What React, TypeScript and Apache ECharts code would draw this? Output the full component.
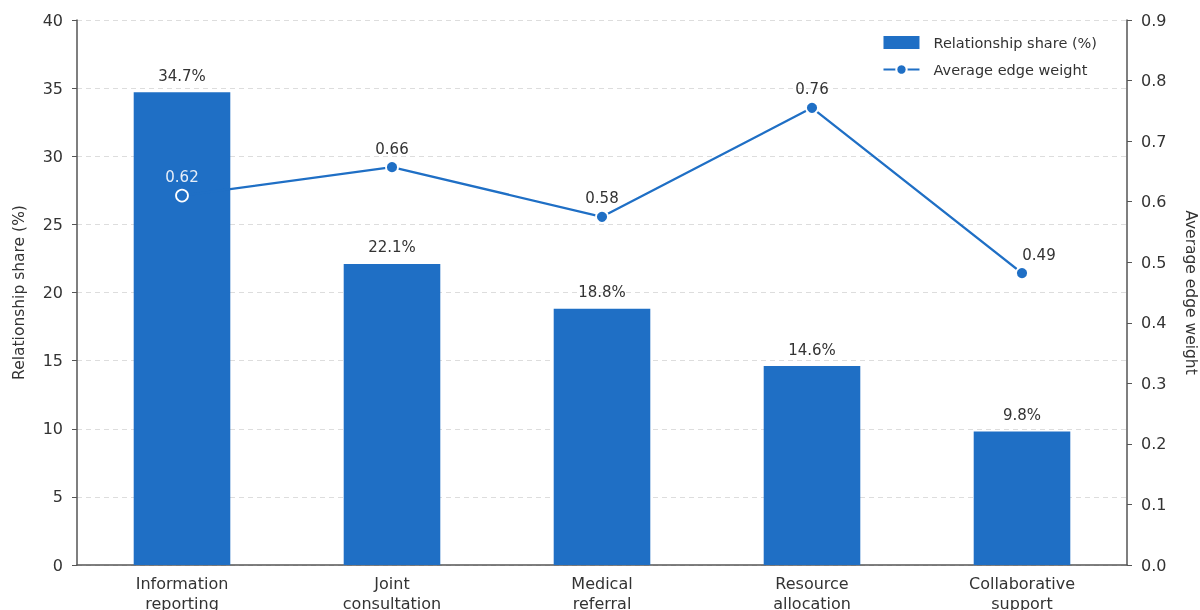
import React, { useEffect, useRef } from "react";
import * as echarts from "echarts";

const categories = [
  "Information\nreporting",
  "Joint\nconsultation",
  "Medical\nreferral",
  "Resource\nallocation",
  "Collaborative\nsupport",
];
const shareValues = [34.7, 22.1, 18.8, 14.6, 9.8];
const weightValues = [0.61, 0.657, 0.575, 0.755, 0.482];
const weightLabels = ["0.62", "0.66", "0.58", "0.76", "0.49"];
const leftTicks = { min: 0, max: 40, interval: 5 };
const rightTicks = { min: 0, max: 0.9, interval: 0.1 };

const BLUE = "#1f6fc5";
const FONT = "DejaVu Sans";
const TXT = "#333333";
const AXIS = "#555555";
const BAR_FRACTION = 0.46;

export default function App() {
  const ref = useRef<HTMLDivElement>(null);
  useEffect(() => {
    if (!ref.current) return;
    const chart = echarts.init(ref.current, undefined, { renderer: "svg" });
    chart.setOption({
      animation: false,
      textStyle: { fontFamily: FONT },
      grid: {
        left: 77,
        right: 73,
        top: 20,
        bottom: 45,
        containLabel: false,
        outerBoundsMode: "none",
      },
      legend: {
        orient: "vertical",
        right: 98,
        top: 30,
        itemWidth: 36,
        itemHeight: 13,
        itemGap: 12,
        textStyle: {
          fontFamily: FONT,
          fontSize: 14.5,
          color: TXT,
          padding: [0, 0, 0, 9],
        },
        data: [
          { name: "Relationship share (%)", icon: "rect" },
          { name: "Average edge weight" },
        ],
      },
      visualMap: {
        show: false,
        type: "piecewise",
        seriesIndex: 1,
        dimension: 0,
        pieces: [
          { min: -1, max: BAR_FRACTION / 2, color: "#ffffff" },
          { gt: BAR_FRACTION / 2, max: 100, color: BLUE },
        ],
      },
      xAxis: {
        type: "category",
        data: categories,
        boundaryGap: true,
        axisLine: { show: true, lineStyle: { color: AXIS, width: 1.5 } },
        axisTick: { show: false },
        axisLabel: {
          fontFamily: FONT,
          fontSize: 16,
          color: TXT,
          margin: 8,
          lineHeight: 20,
          interval: 0,
        },
      },
      yAxis: [
        {
          type: "value",
          min: leftTicks.min,
          max: leftTicks.max,
          interval: leftTicks.interval,
          name: "Relationship share (%)",
          nameLocation: "middle",
          nameRotate: 90,
          nameGap: 50,
          nameTextStyle: { fontFamily: FONT, fontSize: 15.5, color: TXT },
          axisLine: { show: true, lineStyle: { color: AXIS, width: 1.5 } },
          axisTick: { show: true, length: 5, lineStyle: { color: AXIS } },
          axisLabel: { fontFamily: FONT, fontSize: 16, color: TXT, margin: 14 },
          splitLine: {
            show: true,
            lineStyle: { color: "#dddddd", type: [5, 4], width: 1 },
          },
        },
        {
          type: "value",
          min: rightTicks.min,
          max: rightTicks.max,
          interval: rightTicks.interval,
          name: "Average edge weight",
          nameLocation: "middle",
          nameRotate: -90,
          nameGap: 56,
          nameTextStyle: { fontFamily: FONT, fontSize: 15.5, color: TXT },
          axisLine: { show: true, lineStyle: { color: AXIS, width: 1.5 } },
          axisTick: { show: true, length: 5, lineStyle: { color: AXIS } },
          axisLabel: {
            fontFamily: FONT,
            fontSize: 16,
            color: TXT,
            margin: 14,
            formatter: (v: number) => v.toFixed(1),
          },
          splitLine: { show: false },
        },
      ],
      series: [
        {
          name: "Relationship share (%)",
          type: "bar",
          data: shareValues,
          barWidth: BAR_FRACTION * 100 + "%",
          itemStyle: { color: BLUE },
          label: {
            show: true,
            position: "top",
            distance: 9,
            fontFamily: FONT,
            fontSize: 15,
            color: TXT,
            formatter: (p: any) => p.value.toFixed(1) + "%",
          },
        },
        {
          name: "Average edge weight",
          type: "line",
          yAxisIndex: 1,
          data: weightValues.map((v, i) => {
            const item: any = { value: v, itemStyle: { color: BLUE } };
            if (i === 0) item.label = { color: "#e6eef8" };
            if (i === weightValues.length - 1) item.label = { offset: [17, 0] };
            return item;
          }),
          symbol: "circle",
          symbolSize: 12,
          lineStyle: { color: BLUE, width: 2.3 },
          itemStyle: { color: BLUE, borderColor: "#ffffff", borderWidth: 1.8 },
          z: 4,
          label: {
            show: true,
            position: "top",
            distance: 4,
            fontFamily: FONT,
            fontSize: 15,
            color: TXT,
            formatter: (p: any) => weightLabels[p.dataIndex],
          },
        },
      ],
    });
    return () => chart.dispose();
  }, []);
  return (
    <div
      ref={ref}
      style={{ position: "fixed", left: 0, top: 0, width: 1200, height: 610 }}
    />
  );
}
